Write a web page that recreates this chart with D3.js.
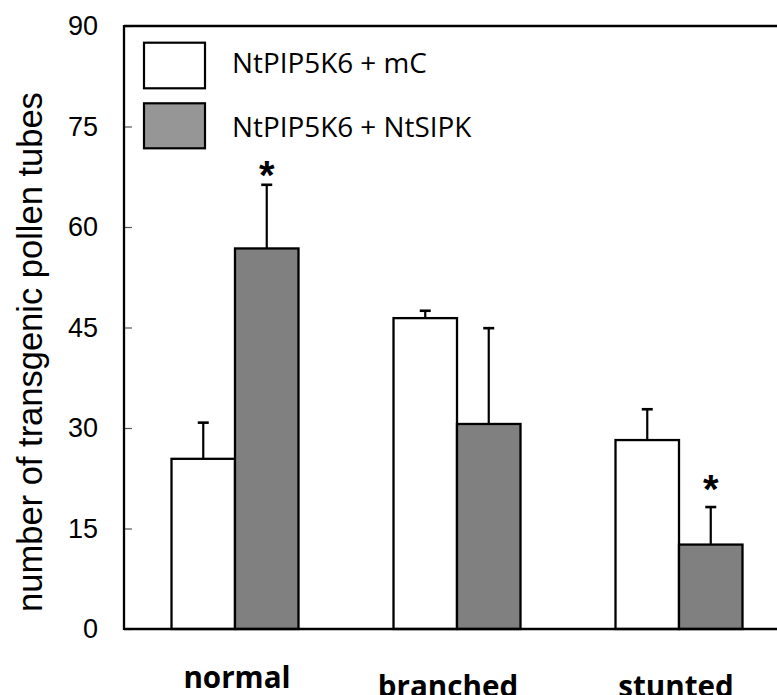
<!DOCTYPE html>
<html>
<head>
<meta charset="utf-8">
<script src="https://cdn.jsdelivr.net/npm/d3@7"></script>
<style>
  body { margin: 0; background: #fff; }
  svg { display: block; }
</style>
</head>
<body>
<div id="chart"></div>
<script>
// Data
const categories = ["normal", "branched", "stunted"];
const seriesNames = ["NtPIP5K6 + mC", "NtPIP5K6 + NtSIPK"];
const meanMC = [25.4, 46.4, 28.2];
const errMC = [5.4, 1.1, 4.6];
const meanSIPK = [56.8, 30.6, 12.6];
const errSIPK = [9.5, 14.3, 5.6];
const sigSIPK = [true, false, true];
const yTicks = [0, 15, 30, 45, 60, 75, 90];

const W = 777, H = 695;
const plotL = 124, plotT = 26, plotB = 629, plotR = 790;

const svg = d3.select("#chart").append("svg")
    .attr("width", W)
    .attr("height", H);

const x = d3.scaleBand()
    .domain(categories)
    .range([plotL, plotR])
    .paddingInner(0.428)
    .paddingOuter(0.214);

const xs = d3.scaleBand()
    .domain([0, 1])
    .range([0, x.bandwidth()]);

const y = d3.scaleLinear()
    .domain([0, 90])
    .range([plotB, plotT]);

const fills = ["#ffffff", "#808080"];

// build rows for bars
const rows = [];
categories.forEach((c, i) => {
    rows.push({ cat: c, s: 0, v: meanMC[i], e: errMC[i], sig: false });
    rows.push({ cat: c, s: 1, v: meanSIPK[i], e: errSIPK[i], sig: sigSIPK[i] });
});

// error bars (behind bars)
const eb = svg.append("g").attr("stroke", "#000").attr("stroke-width", 2.2);
rows.forEach(d => {
    const cx = x(d.cat) + xs(d.s) + xs.bandwidth() / 2;
    eb.append("line")
        .attr("x1", cx).attr("x2", cx)
        .attr("y1", y(d.v)).attr("y2", y(d.v + d.e));
    eb.append("line")
        .attr("x1", cx - 5.5).attr("x2", cx + 5.5)
        .attr("y1", y(d.v + d.e)).attr("y2", y(d.v + d.e))
        .attr("stroke-width", 2.6);
});

// bars
svg.append("g").selectAll("rect")
    .data(rows)
    .enter().append("rect")
    .attr("x", d => x(d.cat) + xs(d.s))
    .attr("y", d => y(d.v))
    .attr("width", xs.bandwidth())
    .attr("height", d => y(0) - y(d.v))
    .attr("fill", d => fills[d.s])
    .attr("stroke", "#000")
    .attr("stroke-width", 2.3);

// significance stars, gap above the error cap in px
const starGap = { normal: 19, stunted: 27 };
svg.append("g").selectAll("text")
    .data(rows.filter(d => d.sig))
    .enter().append("text")
    .attr("x", d => x(d.cat) + xs(d.s) + xs.bandwidth() / 2)
    .attr("y", d => y(d.v + d.e) - starGap[d.cat] + 0.57 * 40)
    .attr("text-anchor", "middle")
    .style("font-family", "'Liberation Sans', Arial, sans-serif")
    .style("font-weight", "bold")
    .style("font-size", "40px")
    .text("*");

// y axis with inward ticks
const yAxis = svg.append("g")
    .attr("transform", `translate(${plotL},0)`)
    .call(d3.axisLeft(y).tickValues(yTicks).tickSizeInner(-8).tickSizeOuter(0).tickPadding(26));
yAxis.select(".domain").remove();
yAxis.selectAll(".tick line").attr("stroke", "#555").attr("stroke-width", 1.2);
yAxis.selectAll(".tick text")
    .style("font-family", "'Liberation Sans', Arial, sans-serif")
    .style("font-size", "27px")
    .attr("fill", "#000");

// frame lines
const frame = svg.append("g").attr("stroke", "#000").attr("stroke-width", 2.3);
frame.append("line").attr("x1", plotL).attr("x2", W + 5).attr("y1", plotT).attr("y2", plotT);
frame.append("line").attr("x1", plotL).attr("x2", W + 5).attr("y1", plotB).attr("y2", plotB);
frame.append("line").attr("x1", plotL).attr("x2", plotL).attr("y1", plotT - 1).attr("y2", plotB + 1);

// y axis title
const yTitle = svg.append("text")
    .attr("transform", `translate(42,352) rotate(-90)`)
    .attr("text-anchor", "middle")
    .style("font-family", "'Liberation Sans', Arial, sans-serif")
    .style("font-size", "35px")
    .text("number of transgenic pollen tubes");
const tw = yTitle.node().getComputedTextLength();
yTitle.style("font-size", (35 * 520 / tw) + "px");

// category labels
const labelNudge = { normal: [2, 688], branched: [-9, 697], stunted: [-3, 697] };
const labelW = { normal: 108, branched: 138, stunted: 117 };
const xl = svg.append("g").selectAll("text")
    .data(categories)
    .enter().append("text")
    .attr("x", d => x(d) + x.bandwidth() / 2 + labelNudge[d][0])
    .attr("y", d => labelNudge[d][1])
    .attr("text-anchor", "middle")
    .style("font-family", "'Open Sans', sans-serif")
    .style("font-weight", "bold")
    .style("font-size", "30px")
    .text(d => d);
let ratio = 0;
xl.each(function (d) { ratio += labelW[d] / this.getComputedTextLength(); });
xl.style("font-size", (30 * ratio / categories.length) + "px");

// legend
const legendFills = ["#ffffff", "#969696"];
const lg = svg.append("g");
const boxes = [[42.7, 88.3], [103.3, 148.3]];
seriesNames.forEach((name, i) => {
    lg.append("rect")
        .attr("x", 144).attr("y", boxes[i][0])
        .attr("width", 61).attr("height", boxes[i][1] - boxes[i][0])
        .attr("fill", legendFills[i])
        .attr("stroke", "#000")
        .attr("stroke-width", 2.2);
});
const lt = lg.selectAll(".lt")
    .data(seriesNames)
    .enter().append("text")
    .attr("class", "lt")
    .attr("x", 232)
    .attr("y", (d, i) => [73.3, 136.7][i])
    .style("font-family", "'Open Sans', sans-serif")
    .style("font-size", "26px")
    .text(d => d);
const lw = lt.node().getComputedTextLength();
lt.style("font-size", (26 * 195 / lw) + "px");
</script>
</body>
</html>
